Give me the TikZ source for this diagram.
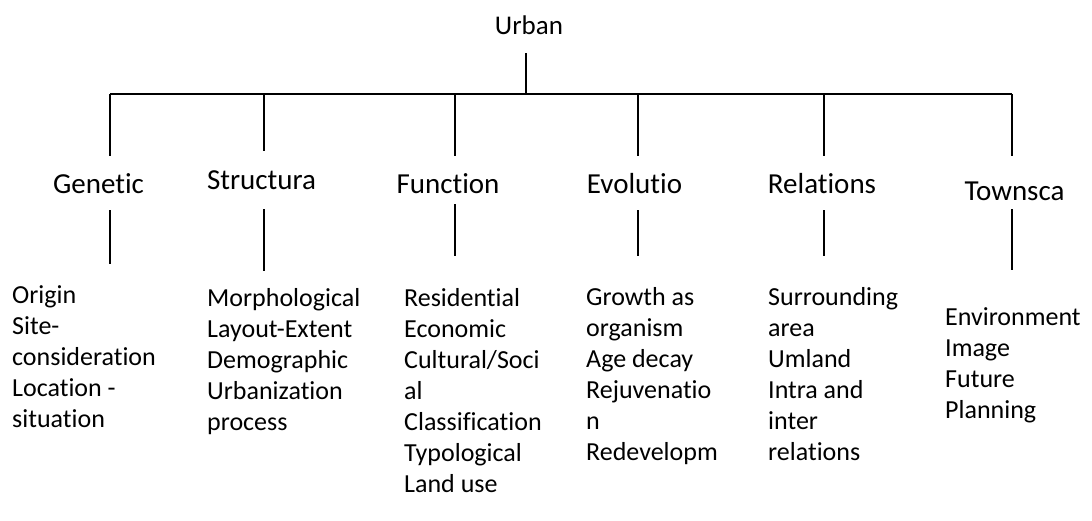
\documentclass[tikz,border=0pt]{standalone}
\usepackage{fontspec}
\setmainfont{Carlito}[Ligatures={NoCommon}]
\newcommand\hdrfont{\fontsize{29}{35}\selectfont}
\newcommand\rootfont{\fontsize{27}{33}\selectfont}
\newcommand\lstfont{\fontsize{26}{31}\selectfont}
\tikzset{
  hdr/.style={font=\hdrfont, inner sep=0pt, anchor=base},
  rootnode/.style={font=\rootfont, inner sep=0pt, anchor=base},
  lst/.style={font=\lstfont, inner sep=0pt, anchor=base west, align=left},
  conn/.style={line width=1.4pt, black}
}
\begin{document}
\begin{tikzpicture}[x=1pt,y=-1pt]
\useasboundingbox (0,0) rectangle (1092,520);
% root
\node[rootnode] (urban) at (529,34) {Urban};
\coordinate (urbanLow) at (526,53);
\coordinate (barMid) at (526,94);
\coordinate (barL) at (110,94);
\coordinate (barR) at (1012,94);
\draw[conn] (urbanLow) -- (barMid);
\draw[conn] (barL) -- (barR);
% headers
\node[hdr] (gen) at (98.5,193) {Genetic};
\node[hdr] (str) at (261.5,189) {Structura};
\node[hdr] (fun) at (448,193) {Function};
\node[hdr] (evo) at (634.5,193) {Evolutio};
\node[hdr] (rel) at (822,193) {Relations};
\node[hdr] (tow) at (1014.5,200) {Townsca};
% branch tops
\coordinate (gA) at (110,94);  \coordinate (gB) at (110,156);
\coordinate (sA) at (264,94);  \coordinate (sB) at (264,151);
\coordinate (fA) at (455,94);  \coordinate (fB) at (455,156);
\coordinate (eA) at (638,94);  \coordinate (eB) at (638,156);
\coordinate (rA) at (824,94);  \coordinate (rB) at (824,156);
\coordinate (tA) at (1012,94); \coordinate (tB) at (1012,156);
\foreach \a/\b in {gA/gB,sA/sB,fA/fB,eA/eB,rA/rB,tA/tB}
  \draw[conn] (\a) -- (\b);
% lower stubs
\coordinate (gC) at (110,210);  \coordinate (gD) at (110,264);
\coordinate (sC) at (264,209);  \coordinate (sD) at (264,271);
\coordinate (fC) at (455,204);  \coordinate (fD) at (455,256);
\coordinate (eC) at (638,210);  \coordinate (eD) at (638,256);
\coordinate (rC) at (824,210);  \coordinate (rD) at (824,256);
\coordinate (tC) at (1012,209); \coordinate (tD) at (1012,270);
\foreach \a/\b in {gC/gD,sC/sD,fC/fD,eC/eD,rC/rD,tC/tD}
  \draw[conn] (\a) -- (\b);
% lists (anchored at the baseline of their last line)
\node[lst] (genL) at (12,427) {Origin\\Site-\\consideration\\Location -\\situation};
\node[lst] (strL) at (207,430) {Morphological\\Layout-Extent\\Demographic\\Urbanization\\process};
\node[lst] (funL) at (404,492) {Residential\\Economic\\Cultural/Soci\\al\\Classification\\Typological\\Land use};
\node[lst] (evoL) at (586,460) {Growth as\\organism\\Age decay\\Rejuvenatio\\n\\Redevelopm};
\node[lst] (relL) at (768,460) {Surrounding\\area\\Umland\\Intra and\\inter\\relations};
\node[lst] (towL) at (945,418) {Environment\\Image\\Future\\Planning};
\end{tikzpicture}
\end{document}
